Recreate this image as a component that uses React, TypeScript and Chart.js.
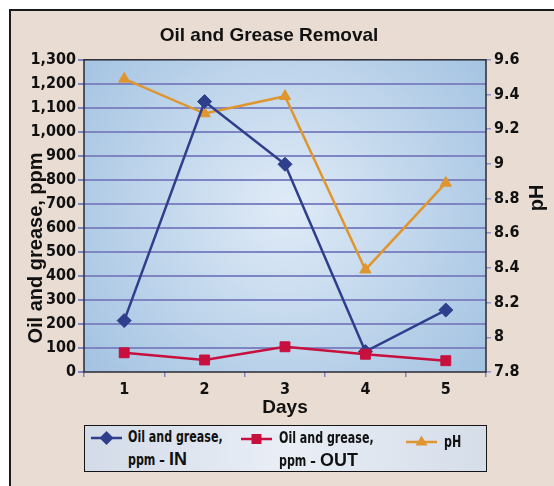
import React, { useEffect, useRef } from 'react';
import { Chart, registerables } from 'chart.js';

Chart.register(...registerables);

// ---- data ----
const days = ['1', '2', '3', '4', '5'];
const greaseIn = [214, 1126, 865, 85, 258];
const greaseOut = [80, 50, 105, 74, 47];
const phValues = [9.49, 9.29, 9.39, 8.39, 8.89];
const greaseAxisMin = 0;
const greaseAxisMax = 1300;
const greaseAxisStep = 100;
const phAxisMin = 7.8;
const phAxisMax = 9.6;
const phAxisStep = 0.2;

const chartTitle = 'Oil and Grease Removal';
const xTitle = 'Days';
const leftTitle = 'Oil and grease, ppm';
const rightTitle = 'pH';

// ---- styles ----
const BLUE = '#2f3f8c';
const RED = '#c8103f';
const ORANGE = '#e0962f';
const GRID = '#7d85c3';
const NARROW = "'Liberation Sans Narrow', 'DejaVu Sans Condensed', 'Arial Narrow', sans-serif";
const SANS = "'Liberation Sans', Arial, Helvetica, sans-serif";

const W = 554;
const H = 486;

const plotDecor = {
  id: 'plotDecor',
  beforeDraw(chart: any) {
    const { ctx, chartArea: a } = chart;
    const cx = (a.left + a.right) / 2;
    const cy = (a.top + a.bottom) / 2 - 8;
    const g = ctx.createRadialGradient(cx, cy, 0, cx, cy, 260);
    g.addColorStop(0, '#e0ebf7');
    g.addColorStop(1, '#a2c2e1');
    ctx.save();
    ctx.fillStyle = g;
    ctx.fillRect(a.left, a.top, a.right - a.left, a.bottom - a.top);
    ctx.restore();
  },
  beforeDatasetsDraw(chart: any) {
    const { ctx, chartArea: a } = chart;
    ctx.save();
    ctx.strokeStyle = '#2a2a35';
    ctx.lineWidth = 1.5;
    ctx.strokeRect(a.left, a.top, a.right - a.left, a.bottom - a.top);
    ctx.restore();
  },
  afterDraw(chart: any) {
    const { ctx } = chart;
    ctx.save();
    ctx.fillStyle = '#111';
    ctx.textAlign = 'center';
    ctx.textBaseline = 'middle';
    ctx.font = `bold 20px ${SANS}`;
    ctx.translate(36, 248);
    ctx.rotate(-Math.PI / 2);
    ctx.fillText(leftTitle, 0, 0);
    ctx.restore();

    ctx.save();
    ctx.fillStyle = '#111';
    ctx.textAlign = 'center';
    ctx.textBaseline = 'middle';
    ctx.font = `bold 20px ${SANS}`;
    ctx.translate(537, 198);
    ctx.rotate(-Math.PI / 2);
    ctx.fillText(rightTitle, 0, 0);
    ctx.restore();
  },
};

function fmtThousands(v: number) {
  return Math.round(v).toLocaleString('en-US');
}

function App() {
  const ref = useRef<HTMLCanvasElement | null>(null);

  useEffect(() => {
    if (!ref.current) return;
    const tickFont = { family: NARROW, size: 16, weight: 'bold' as const };
    const chart = new Chart(ref.current, {
      type: 'line',
      data: {
        labels: days,
        datasets: [
          {
            label: 'Oil and grease, ppm – IN',
            data: greaseIn,
            yAxisID: 'y',
            order: 1,
            borderColor: BLUE,
            backgroundColor: BLUE,
            borderWidth: 2.5,
            pointStyle: 'rectRot',
            pointRadius: 7,
            pointBorderWidth: 1,
            tension: 0,
          },
          {
            label: 'Oil and grease, ppm – OUT',
            data: greaseOut,
            yAxisID: 'y',
            order: 0,
            borderColor: RED,
            backgroundColor: RED,
            borderWidth: 2.5,
            pointStyle: 'rect',
            pointRadius: 7,
            pointBorderWidth: 1,
            tension: 0,
          },
          {
            label: 'pH',
            data: phValues,
            yAxisID: 'y1',
            order: 2,
            borderColor: ORANGE,
            backgroundColor: ORANGE,
            borderWidth: 2.5,
            pointStyle: 'triangle',
            pointRadius: 6.5,
            pointBorderWidth: 1,
            tension: 0,
          },
        ],
      },
      options: {
        responsive: false,
        animation: false,
        devicePixelRatio: 1,
        layout: { padding: { left: 10, right: 26, top: 0, bottom: 64 } },
        plugins: {
          legend: { display: false },
          tooltip: { enabled: false },
          title: {
            display: true,
            text: chartTitle,
            color: '#111',
            font: { family: SANS, size: 19, weight: 'bold' },
            padding: { top: 24, bottom: 13 },
          },
        },
        scales: {
          x: {
            type: 'category',
            offset: true,
            grid: {
              display: true,
              drawOnChartArea: false,
              drawTicks: true,
              tickLength: 5,
              tickColor: GRID,
              lineWidth: 1.5,
              offset: true,
            },
            border: { display: false },
            ticks: { color: '#111', font: tickFont, padding: 3, maxRotation: 0 },
            title: {
              display: true,
              text: xTitle,
              color: '#111',
              font: { family: SANS, size: 19, weight: 'bold' },
              padding: { top: 0, bottom: 3 },
            },
            afterFit(s: any) {
              s.height = 50;
            },
          },
          y: {
            type: 'linear',
            position: 'left',
            min: greaseAxisMin,
            max: greaseAxisMax,
            grid: {
              color: (c: any) =>
                c.tick && (c.tick.value === greaseAxisMin || c.tick.value === greaseAxisMax)
                  ? 'rgba(0,0,0,0)'
                  : GRID,
              tickColor: GRID,
              lineWidth: 2,
              tickLength: 6,
            },
            border: { display: false },
            ticks: {
              stepSize: greaseAxisStep,
              autoSkip: false,
              color: '#111',
              font: tickFont,
              padding: 2,
              callback: (v: any) => fmtThousands(Number(v)),
            },
            afterFit(s: any) {
              s.width = 74;
            },
          },
          y1: {
            type: 'linear',
            position: 'right',
            min: phAxisMin,
            max: phAxisMax,
            grid: {
              drawOnChartArea: false,
              tickColor: '#8d93c9',
              lineWidth: 1.5,
              tickLength: 5,
            },
            border: { display: false },
            ticks: {
              stepSize: phAxisStep,
              autoSkip: false,
              color: '#111',
              font: tickFont,
              padding: 3,
              callback: (v: any) => String(Math.round(Number(v) * 10) / 10),
            },
            afterFit(s: any) {
              s.width = 42;
            },
          },
        },
      },
      plugins: [plotDecor],
    });
    return () => chart.destroy();
  }, []);

  const legendText: React.CSSProperties = {
    fontFamily: NARROW,
    fontWeight: 'bold',
    fontSize: 15,
    lineHeight: '21px',
    color: '#111',
    whiteSpace: 'nowrap',
    transform: 'scaleX(0.82)',
    transformOrigin: 'left top',
  };
  const big: React.CSSProperties = {
    fontFamily: SANS,
    fontWeight: 'bold',
    fontSize: 19,
    display: 'inline-block',
    transform: 'scaleX(1.15)',
    transformOrigin: 'left center',
  };

  const marker = (kind: string, color: string) => (
    <svg width={31} height={14} style={{ display: 'block' }}>
      <line x1={0} y1={7} x2={31} y2={7} stroke={color} strokeWidth={2.5} />
      {kind === 'diamond' && <polygon points="15.5,0 22.5,7 15.5,14 8.5,7" fill={color} />}
      {kind === 'square' && <rect x={10.5} y={2} width={10} height={10} fill={color} />}
      {kind === 'triangle' && <polygon points="15.5,0.5 21.5,10.5 9.5,10.5" fill={color} />}
    </svg>
  );

  return (
    <div style={{ position: 'fixed', left: 0, top: 0, width: W, height: H, overflow: 'hidden', background: '#fff' }}>
      <div
        style={{
          position: 'absolute',
          left: 9,
          top: 9,
          width: 620,
          height: 620,
          border: '2px solid #1a1a1a',
          background: '#e9dcd3',
        }}
      />
      <canvas ref={ref} width={W} height={H} style={{ position: 'absolute', left: 0, top: 0, width: W, height: H }} />
      <div
        style={{
          position: 'absolute',
          left: 84,
          top: 425,
          width: 401,
          height: 45,
          border: '1.5px solid #151515',
          background: 'linear-gradient(90deg, #d3dbe8 0%, #e9eef6 50%, #d5dde9 100%)',
        }}
      >
        <div style={{ position: 'absolute', left: 6, top: 5 }}>{marker('diamond', BLUE)}</div>
        <div style={{ position: 'absolute', left: 43, top: 1, ...legendText }}>
          Oil and grease,
          <br />
          ppm – <span style={big}>IN</span>
        </div>
        <div style={{ position: 'absolute', left: 156, top: 6 }}>{marker('square', RED)}</div>
        <div style={{ position: 'absolute', left: 194, top: 2, ...legendText }}>
          Oil and grease,
          <br />
          ppm – <span style={big}>OUT</span>
        </div>
        <div style={{ position: 'absolute', left: 321, top: 9 }}>{marker('triangle', ORANGE)}</div>
        <div style={{ position: 'absolute', left: 359, top: 6, ...legendText }}>pH</div>
      </div>
    </div>
  );
}

export default App;
